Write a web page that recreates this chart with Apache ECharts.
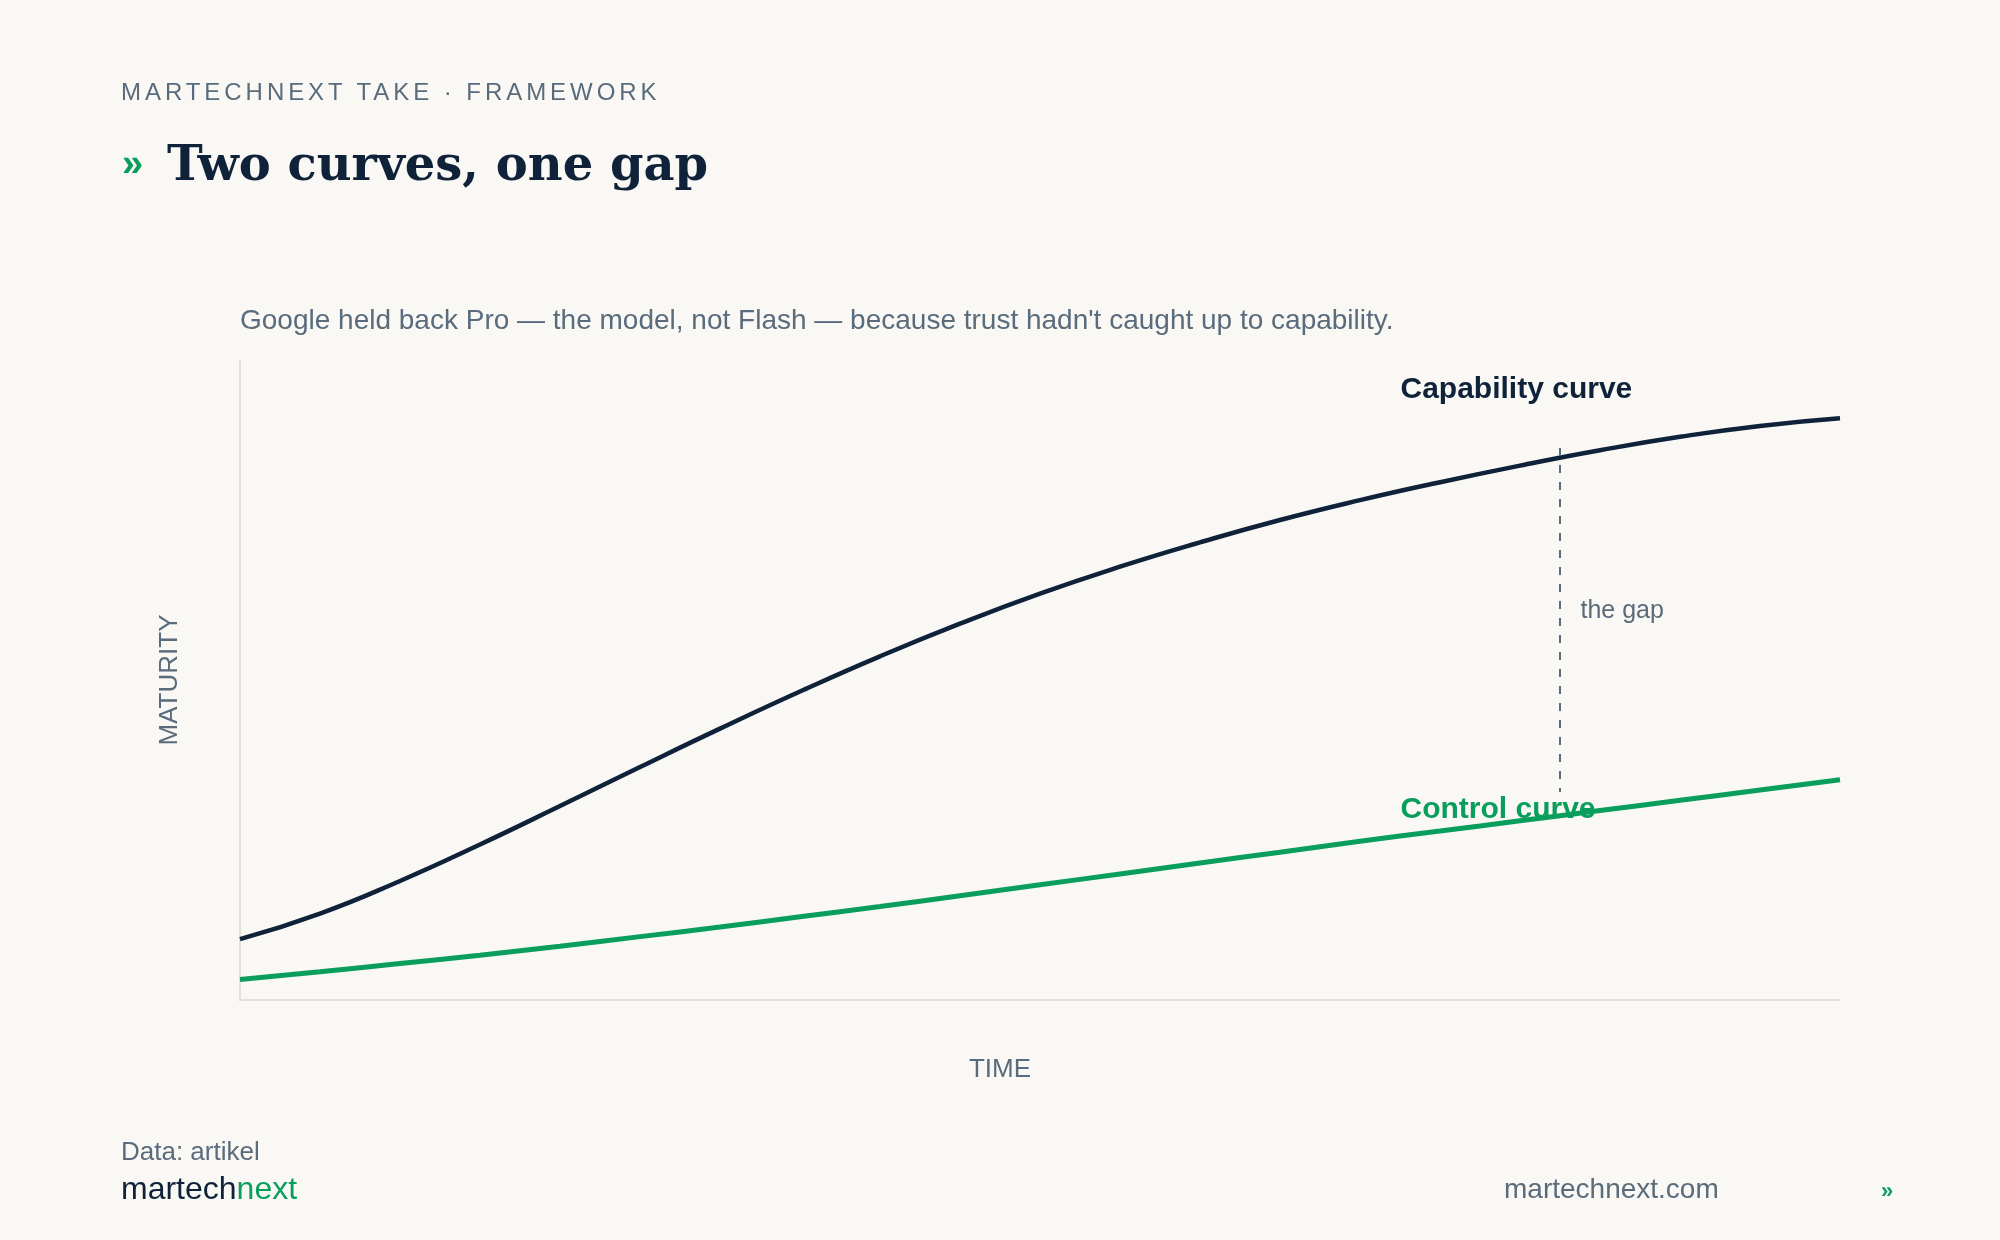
<!DOCTYPE html>
<html>
<head>
<meta charset="utf-8">
<script src="https://cdn.jsdelivr.net/npm/echarts@6/dist/echarts.min.js"></script>
<style>
  html, body { margin: 0; padding: 0; background: #f9f8f4; }
  #page { position: relative; width: 2000px; height: 1240px; overflow: hidden; font-family: "Liberation Sans", Arial, sans-serif; }
  #chart { position: absolute; left: 0; top: 0; width: 2000px; height: 1240px; }
  .txt { position: absolute; line-height: 1; white-space: nowrap; }
  .kicker { left: 121px; top: 80px; font-size: 24px; letter-spacing: 3.95px; color: #5a6b7c; }
  .chev { left: 122px; top: 144px; font-size: 38px; font-weight: bold; color: #0a9e5c; }
  .title { left: 167px; top: 139px; font-family: "DejaVu Serif", serif; font-weight: bold; font-size: 48px; color: #0f2239; }
  .source { left: 121px; top: 1138px; font-size: 26px; color: #5a6b7c; }
  .logo { left: 121px; top: 1172px; font-size: 32px; color: #0f2239; }
  .logo span { color: #0a9e5c; }
  .site { left: 1504px; top: 1175px; font-size: 28px; color: #5a6b7c; }
  .chev2 { left: 1881px; top: 1180px; font-size: 22px; font-weight: bold; color: #0a9e5c; }
</style>
</head>
<body>
<div id="page">
  <div id="chart"></div>
  <div class="txt kicker">MARTECHNEXT TAKE · FRAMEWORK</div>
  <div class="txt chev">»</div>
  <div class="txt title">Two curves, one gap</div>
  <div class="txt source">Data: artikel</div>
  <div class="txt logo">martech<span>next</span></div>
  <div class="txt site">martechnext.com</div>
  <div class="txt chev2">»</div>
</div>
<script>
// time axis (0 - 100), every 5 units
const timeX = [0, 5, 10, 15, 20, 25, 30, 35, 40, 45, 50, 55, 60, 65, 70, 75, 80, 85, 90, 95, 100]
const capability = [9.5, 13.5, 18.6, 24.3, 30.3, 36.4, 42.4, 48.2, 53.7, 58.8, 63.5, 67.7, 71.5, 75.0, 78.1, 80.9, 83.5, 85.9, 88.0, 89.7, 90.9]
const control = [3.2, 4.4, 5.7, 7.0, 8.4, 9.9, 11.4, 13.0, 14.6, 16.3, 18.0, 19.7, 21.4, 23.1, 24.8, 26.4, 28.0, 29.6, 31.2, 32.8, 34.4]

// annotations in data units
const capLabel = [72.5, 95.3]
const ctrlLabel = [72.5, 29.8]
const gapX = 82.5
const gapRange = [86.25, 32.5]
const gapLabel = [83.75, 60.8]

const NAVY = '#0f2239'
const GREEN = '#0a9e5c'
const GRAY = '#5a6b7c'
const AXIS = '#e3e0d8'
const FONT = '"Liberation Sans", Arial, sans-serif'

function pairs(xs, ys) {
  return xs.map((x, i) => [x, ys[i]])
}

const chart = echarts.init(document.getElementById('chart'), null, { renderer: 'canvas' })

const option = {
  animation: false,
  backgroundColor: 'transparent',
  textStyle: { fontFamily: FONT },
  title: {
    text: 'Google held back Pro — the model, not Flash — because trust hadn\'t caught up to capability.',
    left: 240,
    top: 307,
    padding: 0,
    textStyle: { fontSize: 28, fontWeight: 'normal', color: GRAY, fontFamily: FONT }
  },
  grid: { left: 240, right: 160, top: 360, bottom: 240 },
  xAxis: {
    type: 'value',
    min: 0,
    max: 100,
    name: 'TIME',
    nameLocation: 'middle',
    nameGap: 57,
    nameTextStyle: { fontSize: 26, color: GRAY, padding: [0, 80, 0, 0] },
    axisLine: { show: true, lineStyle: { color: AXIS, width: 2 } },
    axisTick: { show: false },
    axisLabel: { show: false },
    splitLine: { show: false }
  },
  yAxis: {
    type: 'value',
    min: 0,
    max: 100,
    name: 'MATURITY',
    nameLocation: 'middle',
    nameGap: 57,
    nameTextStyle: { fontSize: 26, color: GRAY },
    axisLine: { show: true, lineStyle: { color: AXIS, width: 2 } },
    axisTick: { show: false },
    axisLabel: { show: false },
    splitLine: { show: false }
  },
  series: [{
    name: 'Capability curve',
    type: 'line',
    data: pairs(timeX, capability),
    smooth: true,
    showSymbol: false,
    lineStyle: { color: NAVY, width: 4.5 },
    itemStyle: { color: NAVY },
    z: 3,
    markLine: {
      silent: true,
      symbol: ['none', 'none'],
      label: { show: false },
      lineStyle: { color: GRAY, width: 2, type: [8, 9] },
      data: [[{ coord: [gapX, gapRange[0]] }, { coord: [gapX, gapRange[1]] }]]
    },
    markPoint: {
      silent: true,
      symbol: 'circle',
      symbolSize: 1,
      itemStyle: { color: 'transparent' },
      data: [{
        coord: capLabel,
        label: { show: true, position: 'right', distance: 0, formatter: 'Capability curve', fontSize: 30, fontWeight: 'bold', color: NAVY }
      }, {
        coord: gapLabel,
        label: { show: true, position: 'right', distance: 0, formatter: 'the gap', fontSize: 25, color: GRAY }
      }]
    }
  }, {
    name: 'Control curve',
    type: 'line',
    data: pairs(timeX, control),
    smooth: true,
    showSymbol: false,
    lineStyle: { color: GREEN, width: 5 },
    itemStyle: { color: GREEN },
    z: 4,
    markPoint: {
      silent: true,
      symbol: 'circle',
      symbolSize: 1,
      itemStyle: { color: 'transparent' },
      data: [{
        coord: ctrlLabel,
        label: { show: true, position: 'right', distance: 0, formatter: 'Control curve', fontSize: 30, fontWeight: 'bold', color: GREEN }
      }]
    }
  }]
}

chart.setOption(option)
</script>
</body>
</html>
